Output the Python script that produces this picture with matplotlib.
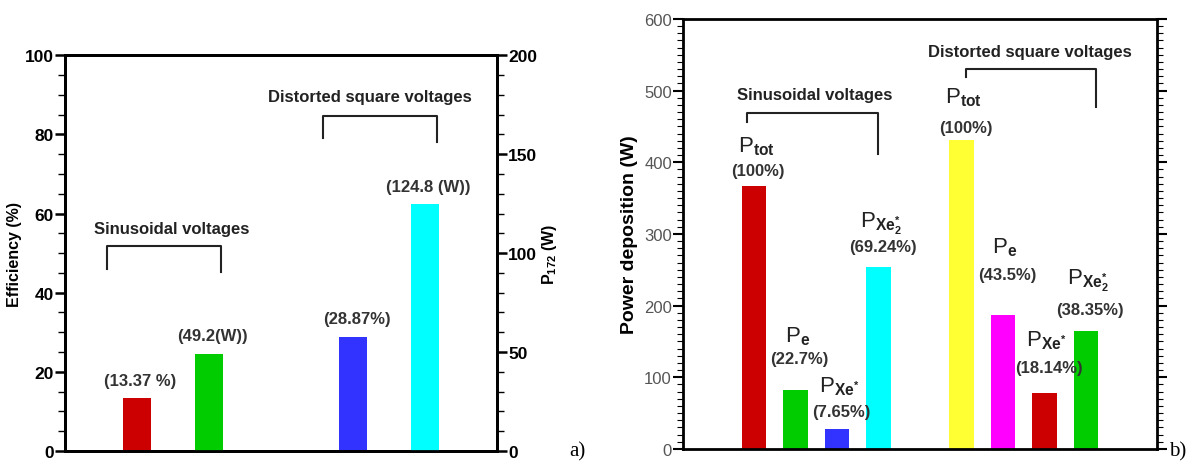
"""
Two bar panels: a) efficiency / P172, b) power deposition breakdown.
Output: out.png (1193x464)
"""
import matplotlib
matplotlib.use("Agg")
import matplotlib.pyplot as plt
from matplotlib.ticker import MultipleLocator

plt.rcParams["font.family"] = ["Liberation Sans", "DejaVu Sans"]
plt.rcParams["mathtext.fontset"] = "custom"
plt.rcParams["mathtext.rm"] = "Liberation Sans"
plt.rcParams["mathtext.bf"] = "Liberation Sans:bold"

# ---- data: panel a ----
a_pos = [1, 2, 4, 5]
a_axis = ["left", "right", "left", "right"]          # efficiency (%) vs P172 (W)
a_vals = [13.37, 49.2, 28.87, 124.8]
a_labels = ["(13.37 %)", "(49.2(W))", "(28.87%)", "(124.8 (W))"]
a_colors = ["#cc0000", "#00cc00", "#3333ff", "#00ffff"]

# ---- data: panel b ----
b_pos = [1, 2, 3, 4, 6, 7, 8, 9]
b_vals = [367, 82.7, 28, 254.4, 431, 187, 78, 165]
b_pct = ["(100%)", "(22.7%)", "(7.65%)", "(69.24%)",
         "(100%)", "(43.5%)", "(18.14%)", "(38.35%)"]
b_names = [r"$\mathregular{P}_{\mathbf{tot}}$", r"$\mathregular{P}_{\mathbf{e}}$",
           r"$\mathregular{P}_{\mathbf{Xe^{*}}}$", r"$\mathregular{P}_{\mathbf{Xe_2^{*}}}$"] * 2
b_colors = ["#cc0000", "#00cc00", "#3333ff", "#00ffff",
            "#ffff33", "#ff00ff", "#cc0000", "#00cc00"]
# label heights (data units)
b_pct_y = [388, 126, 53, 283, 449, 243, 114, 195]
b_name_y = [423, 158, 88, 316, 491, 282, 153, 237]

fig = plt.figure(figsize=(11.93, 4.64), dpi=100)


def style_spines(ax, lw=2):
    for s in ax.spines.values():
        s.set_linewidth(lw)


# ===== a) =====
ax = fig.add_axes([0.0545, 0.0259, 0.362, 0.853])
ax2 = ax.twinx()
ax.set_xlim(0, 6)
ax.set_ylim(0, 100)
ax2.set_ylim(0, 200)
for p, side, v, lab, c in zip(a_pos, a_axis, a_vals, a_labels, a_colors):
    tgt = ax if side == "left" else ax2
    tgt.bar(p, v, 0.4, color=c, zorder=2)
    off = 4.5 if side == "left" else 9
    tgt.text(p + 0.05, v + off, lab, ha="center", va="center", fontsize=12, fontweight="bold", color="#333333")
ax.set_xticks([])
ax.yaxis.set_major_locator(MultipleLocator(20))
ax.yaxis.set_minor_locator(MultipleLocator(5))
ax2.yaxis.set_major_locator(MultipleLocator(50))
ax2.yaxis.set_minor_locator(MultipleLocator(10))
for a in (ax, ax2):
    a.tick_params(which="major", direction="out", length=7, width=1.8, labelsize=12.5, pad=1)
    a.tick_params(which="minor", direction="out", length=5, width=1)
    for t in a.get_yticklabels():
        t.set_fontweight("bold")
    style_spines(a)
ax.set_ylabel("Efficiency (%)", fontsize=11.5, fontweight="bold", labelpad=2)
ax2.set_ylabel(r"$\mathbf{P_{172}}$ (W)", fontsize=11.5, fontweight="bold", labelpad=2)

# brackets
ax.plot([0.58, 0.58, 2.17, 2.17], [46, 51.8, 51.8, 45.2], color="#222222", lw=1.5)
ax.text(1.48, 56.3, "Sinusoidal voltages", ha="center", va="center", fontsize=12, fontweight="bold", color="#222222")
ax.plot([3.58, 3.58, 5.17, 5.17], [79, 84.6, 84.6, 78], color="#222222", lw=1.5)
ax.text(4.23, 89.6, "Distorted square voltages", ha="center", va="center", fontsize=12, fontweight="bold", color="#222222")
fig.text(577 / 1193, 1 - 452 / 464, "a)", fontsize=15, family="Liberation Serif", ha="center", va="center")

# ===== b) =====
bx = fig.add_axes([0.5725, 0.0302, 0.3973, 0.9268])
bx.set_xlim(-0.71, 10.71)
bx.set_ylim(0, 600)
bx.bar(b_pos, b_vals, 0.6, color=b_colors, zorder=2)
for p, name, pct, ny, py in zip(b_pos, b_names, b_pct, b_name_y, b_pct_y):
    bx.text(p + 0.1, py, pct, ha="center", va="center", fontsize=12, fontweight="bold", color="#333333")
    bx.text(p + 0.05, ny, name, ha="center", va="center", fontsize=16, color="#222222")
bx.set_xticks([])
bx.yaxis.set_major_locator(MultipleLocator(100))
bx.yaxis.set_minor_locator(MultipleLocator(10))
bx.tick_params(which="major", direction="out", length=7, width=1.5, labelsize=12, labelcolor="#555555",
               right=True, pad=1)
bx.tick_params(which="minor", direction="out", length=4, width=0.8, right=True)
style_spines(bx)
bx.set_ylabel("Power deposition (W)", fontsize=14, fontweight="bold", labelpad=4)

bx.plot([0.83, 0.83, 4.0, 4.0], [456, 469, 469, 411], color="#222222", lw=1.5)
bx.text(2.47, 495, "Sinusoidal voltages", ha="center", va="center", fontsize=12, fontweight="bold", color="#222222")
bx.plot([6.11, 6.11, 9.24, 9.24], [519, 530, 530, 477], color="#222222", lw=1.5)
bx.text(7.65, 555, "Distorted square voltages", ha="center", va="center", fontsize=12, fontweight="bold", color="#222222")
fig.text(1178 / 1193, 1 - 452 / 464, "b)", fontsize=15, family="Liberation Serif", ha="center", va="center")

fig.savefig("out.png", dpi=100)
